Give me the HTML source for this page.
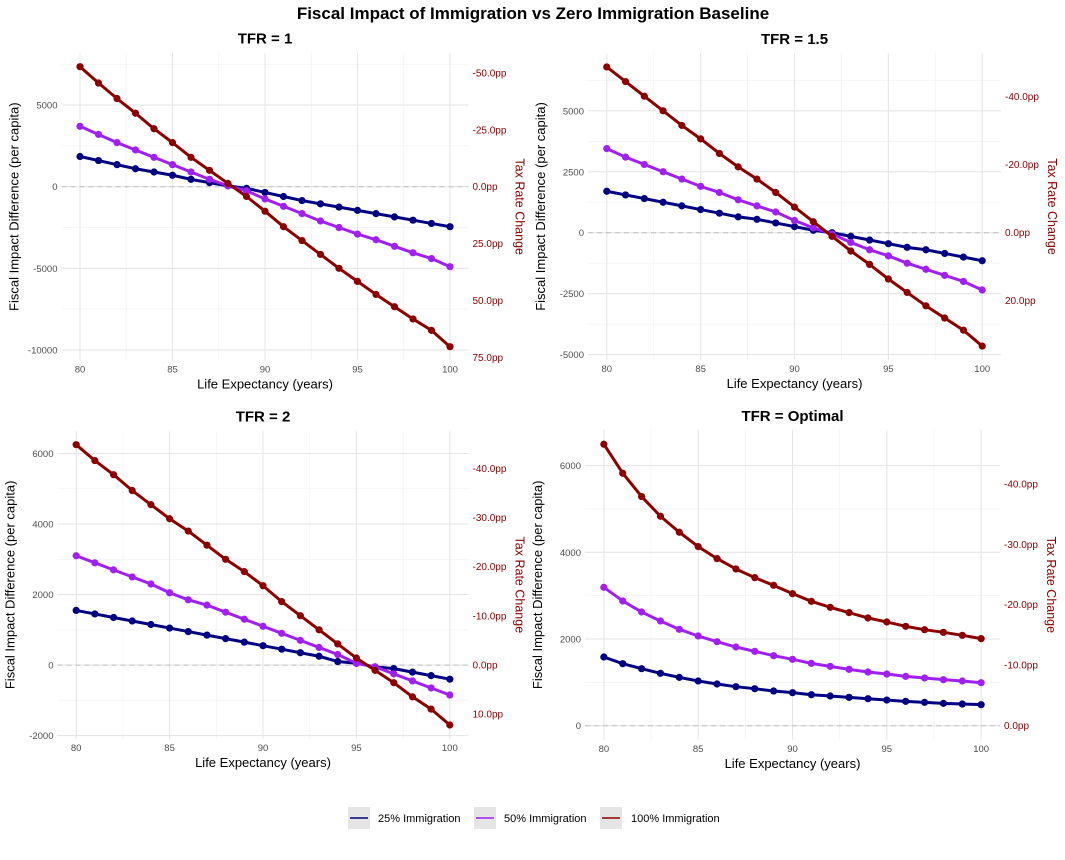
<!DOCTYPE html>
<html><head><meta charset="utf-8"><style>
body{margin:0;background:#fff;font-family:"Liberation Sans",sans-serif;}
svg text{font-family:"Liberation Sans",sans-serif;}
</style></head><body>
<svg id="chart" width="1065" height="855" xmlns="http://www.w3.org/2000/svg">
<text x="533" y="19" text-anchor="middle" font-size="17" font-weight="bold">Fiscal Impact of Immigration vs Zero Immigration Baseline</text>
<g>
 <rect x="348" y="807" width="22" height="22" fill="#e5e5e5"/>
 <line x1="350" y1="818" x2="368" y2="818" stroke="#000080" stroke-width="1.5"/>
 <text x="378" y="822" font-size="11">25% Immigration</text>
 <rect x="474" y="807" width="22" height="22" fill="#e5e5e5"/>
 <line x1="476" y1="818" x2="494" y2="818" stroke="#a020f0" stroke-width="1.5"/>
 <text x="504" y="822" font-size="11">50% Immigration</text>
 <rect x="600" y="807" width="22" height="22" fill="#e5e5e5"/>
 <line x1="602" y1="818" x2="620" y2="818" stroke="#8b0000" stroke-width="1.5"/>
 <text x="631" y="822" font-size="11">100% Immigration</text>
</g>
</svg>
<script>
const years = [80,81,82,83,84,85,86,87,88,89,90,91,92,93,94,95,96,97,98,99,100];
const seriesNames = ["25% Immigration","50% Immigration","100% Immigration"];
const tfr1_25 = [1850,1600,1350,1100,900,700,450,250,50,-100,-350,-600,-850,-1050,-1250,-1450,-1650,-1850,-2050,-2250,-2450];
const tfr1_50 = [3700,3200,2700,2250,1800,1350,900,450,50,-250,-750,-1200,-1650,-2100,-2500,-2900,-3250,-3650,-4050,-4400,-4900];
const tfr1_100 = [7350,6350,5400,4500,3550,2700,1800,1000,200,-600,-1500,-2450,-3300,-4150,-5000,-5800,-6600,-7350,-8100,-8800,-9800];
const tfr15_25 = [1700,1550,1400,1250,1100,950,800,650,550,400,250,100,0,-150,-300,-450,-600,-700,-850,-1000,-1150];
const tfr15_50 = [3450,3100,2800,2500,2200,1900,1650,1350,1100,850,500,200,-50,-400,-700,-950,-1250,-1500,-1750,-2000,-2350];
const tfr15_100 = [6800,6200,5600,5000,4400,3850,3250,2700,2200,1650,1050,450,-150,-750,-1300,-1900,-2450,-3000,-3500,-4000,-4650];
const tfr2_25 = [1550,1450,1350,1250,1150,1050,950,850,750,650,550,450,350,250,100,50,-50,-100,-200,-300,-400];
const tfr2_50 = [3100,2900,2700,2500,2300,2050,1850,1700,1500,1300,1100,900,700,500,300,50,-50,-250,-450,-650,-850];
const tfr2_100 = [6250,5800,5400,4950,4550,4150,3800,3400,3000,2650,2250,1800,1400,1000,600,200,-150,-500,-900,-1250,-1700];
const opt_25 = [1585,1431,1315,1208,1115,1031,962,900,854,800,762,715,685,654,623,592,562,538,515,500,485];
const opt_50 = [3192,2877,2623,2415,2223,2069,1938,1815,1715,1615,1531,1438,1369,1300,1238,1192,1138,1100,1062,1031,992];
const opt_100 = [6492,5823,5285,4831,4462,4131,3854,3615,3415,3238,3046,2869,2731,2608,2485,2392,2292,2215,2154,2085,2008];
const xTicks = [80,85,90,95,100];
const yTicks1 = [5000,0,-5000,-10000];
const yTicks15 = [5000,2500,0,-2500,-5000];
const yTicks2 = [6000,4000,2000,0,-2000];
const yTicksOpt = [6000,4000,2000,0];
const ppTicks1 = [-50,-25,0,25,50,75];
const ppTicks15 = [-40,-20,0,20];
const ppTicks2 = [-40,-30,-20,-10,0,10];
const ppTicksOpt = [-40,-30,-20,-10,0];
const valuePerPP = 139.5;
const colors = ["#000080","#a020f0","#8b0000"];

const NS = "http://www.w3.org/2000/svg";
const svg = document.getElementById('chart');
function mk(tag, attrs, parent){const e=document.createElementNS(NS,tag);for(const k in attrs)e.setAttribute(k,attrs[k]);(parent||svg).appendChild(e);return e;}

const panels = [
 {name:"tfr-1",title:"TFR = 1",series:[tfr1_25,tfr1_50,tfr1_100],yt:yTicks1,pt:ppTicks1,left:61.5,right:468.5,top:52.7,bottom:360.7,ymin:-10657,ymax:8207},
 {name:"tfr-1-5",title:"TFR = 1.5",series:[tfr15_25,tfr15_50,tfr15_100],yt:yTicks15,pt:ppTicks15,left:588,right:1001,top:53,bottom:360,ymin:-5222,ymax:7372},
 {name:"tfr-2",title:"TFR = 2",series:[tfr2_25,tfr2_50,tfr2_100],yt:yTicks2,pt:ppTicks2,left:57.5,right:468.5,top:430.7,bottom:739,ymin:-2097,ymax:6647},
 {name:"tfr-optimal",title:"TFR = Optimal",series:[opt_25,opt_50,opt_100],yt:yTicksOpt,pt:ppTicksOpt,left:585,right:1000,top:429.8,bottom:739.8,ymin:-325,ymax:6825}
];

panels.forEach(p=>{
 const g = mk('g',{});
 
 
 const xs = v => p.left + (v-79)/22*(p.right-p.left);
 const ys = v => p.bottom - (v-p.ymin)/(p.ymax-p.ymin)*(p.bottom-p.top);
 for(let i=0;i<xTicks.length-1;i++){const xm=(xTicks[i]+xTicks[i+1])/2;mk('line',{x1:xs(xm),x2:xs(xm),y1:p.top,y2:p.bottom,stroke:'#f2f2f2','stroke-width':0.8},g);}
 for(let i=0;i<p.yt.length-1;i++){const ym=(p.yt[i]+p.yt[i+1])/2;mk('line',{x1:p.left,x2:p.right,y1:ys(ym),y2:ys(ym),stroke:'#f2f2f2','stroke-width':0.8},g);}
 const ym0=p.yt[p.yt.length-1]-(p.yt[0]-p.yt[1])/2; if(ym0>p.ymin) mk('line',{x1:p.left,x2:p.right,y1:ys(ym0),y2:ys(ym0),stroke:'#f2f2f2','stroke-width':0.8},g);
 const ymt=p.yt[0]+(p.yt[0]-p.yt[1])/2; if(ymt<p.ymax) mk('line',{x1:p.left,x2:p.right,y1:ys(ymt),y2:ys(ymt),stroke:'#f2f2f2','stroke-width':0.8},g);
 xTicks.forEach(t=>{
  mk('line',{x1:xs(t),x2:xs(t),y1:p.top,y2:p.bottom,stroke:'#e6e6e6','stroke-width':1.1},g);
  const tx=mk('text',{x:xs(t),y:p.bottom+12,'text-anchor':'middle','font-size':9.5,fill:'#4d4d4d'},g);
  tx.textContent=t;
  
  
 });
 p.yt.forEach(t=>{
  mk('line',{x1:p.left,x2:p.right,y1:ys(t),y2:ys(t),stroke:'#e6e6e6','stroke-width':1.1},g);
  const tx=mk('text',{x:p.left-4,y:ys(t)+3.5,'text-anchor':'end','font-size':9.5,fill:'#4d4d4d'},g);
  tx.textContent=t;
  
  
 });
 p.pt.forEach(t=>{
  const tx=mk('text',{x:p.right+4,y:ys(-t*valuePerPP)+3.5,'font-size':10,fill:'#8b0000'},g);
  tx.textContent=t.toFixed(1)+'pp';
  
  
 });
 const zl=mk('line',{x1:p.left,x2:p.right,y1:ys(0),y2:ys(0),stroke:'#bdbdbd','stroke-width':1,'stroke-dasharray':'5,4'},g);
 
 
 p.series.forEach((s,si)=>{
  const pts=s.map((v,i)=>xs(years[i])+','+ys(v)).join(' ');
  const pl=mk('polyline',{points:pts,fill:'none',stroke:colors[si],'stroke-width':3,'stroke-linejoin':'round'},g);
  
  
  s.forEach((v,i)=>{
   const c=mk('circle',{cx:xs(years[i]),cy:ys(v),r:3.6,fill:colors[si]},g);
   
   
  });
 });
 const cx=(p.left+p.right)/2;
 const ti=mk('text',{x:cx,y:p.top-9,'text-anchor':'middle','font-size':15,'font-weight':'bold'},g);
 ti.textContent=p.title;
 
 
 const xt=mk('text',{x:cx,y:p.bottom+28,'text-anchor':'middle','font-size':13},g);
 xt.textContent='Life Expectancy (years)';
 
 
 const my=(p.top+p.bottom)/2;
 const lx=p.left-43;
 const yt=mk('text',{x:lx,y:my,'text-anchor':'middle','font-size':13,transform:'rotate(-90 '+lx+' '+my+')'},g);
 yt.textContent='Fiscal Impact Difference (per capita)';
 
 
 const rx=p.right+47;
 const rt=mk('text',{x:rx,y:my,'text-anchor':'middle','font-size':12.5,fill:'#8b0000',transform:'rotate(90 '+rx+' '+my+')'},g);
 rt.textContent='Tax Rate Change';
 
 
});
</script>
</body></html>
